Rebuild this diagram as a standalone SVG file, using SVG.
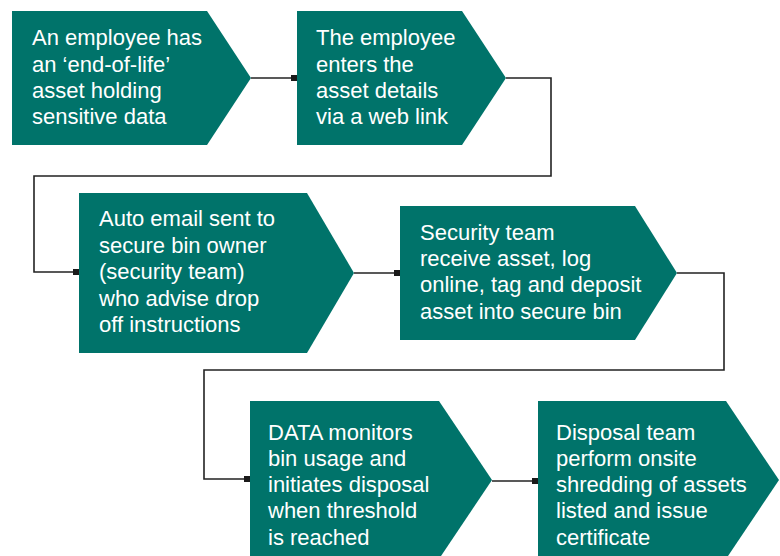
<svg xmlns="http://www.w3.org/2000/svg" width="780" height="556" viewBox="0 0 780 556">
<style>
.box{fill:#00736a}
.t{font-family:"Liberation Sans",Arial,sans-serif;font-size:22px;fill:#ffffff}
.c{fill:none;stroke:#222222;stroke-width:1.6}
</style>
<defs>
<marker id="sq" markerUnits="userSpaceOnUse" markerWidth="6" markerHeight="6" refX="6" refY="3" orient="auto">
<rect x="0" y="0" width="6" height="6" fill="#1a1a1a"/>
</marker>
</defs>
<rect width="780" height="556" fill="#ffffff"/>
<g id="connectors">
<path class="c" d="M251,78 H297" marker-end="url(#sq)"/>
<path class="c" d="M506,78 H551 V176 H34 V272 H79" marker-end="url(#sq)"/>
<path class="c" d="M354,273 H400" marker-end="url(#sq)"/>
<path class="c" d="M677,273 H724 V370 H204 V479 H250" marker-end="url(#sq)"/>
<path class="c" d="M492,481 H538" marker-end="url(#sq)"/>
</g>
<g id="n1">
<polygon class="box" points="12,11 207,11 251,78 207,145 12,145"/>
<text class="t" x="32" y="45">An employee has</text>
<text class="t" x="32" y="71.5">an ‘end-of-life’</text>
<text class="t" x="32" y="98">asset holding</text>
<text class="t" x="32" y="124">sensitive data</text>
</g>
<g id="n2">
<polygon class="box" points="297,11 462,11 506,78 462,145 297,145"/>
<text class="t" x="316" y="45">The employee</text>
<text class="t" x="316" y="71.5">enters the</text>
<text class="t" x="316" y="98">asset details</text>
<text class="t" x="316" y="124">via a web link</text>
</g>
<g id="n3">
<polygon class="box" points="79,193 307,193 354,273 307,353 79,353"/>
<text class="t" x="99" y="226">Auto email sent to</text>
<text class="t" x="99" y="252.5">secure bin owner</text>
<text class="t" x="99" y="279">(security team)</text>
<text class="t" x="99" y="305.5">who advise drop</text>
<text class="t" x="99" y="332">off instructions</text>
</g>
<g id="n4">
<polygon class="box" points="400,206 635,206 677,273 635,340 400,340"/>
<text class="t" x="420" y="239.5">Security team</text>
<text class="t" x="420" y="265.5">receive asset, log</text>
<text class="t" x="420" y="292">online, tag and deposit</text>
<text class="t" x="420" y="318.5">asset into secure bin</text>
</g>
<g id="n5">
<polygon class="box" points="250,401 439,401 492,480 439,559 250,559"/>
<text class="t" x="268" y="439.5">DATA monitors</text>
<text class="t" x="268" y="465.5">bin usage and</text>
<text class="t" x="268" y="492">initiates disposal</text>
<text class="t" x="268" y="518">when threshold</text>
<text class="t" x="268" y="544.5">is reached</text>
</g>
<g id="n6">
<polygon class="box" points="538,401 726,401 779,480 726,559 538,559"/>
<text class="t" x="556" y="439.5">Disposal team</text>
<text class="t" x="556" y="465.5">perform onsite</text>
<text class="t" x="556" y="492">shredding of assets</text>
<text class="t" x="556" y="518">listed and issue</text>
<text class="t" x="556" y="544.5">certificate</text>
</g>
</svg>
